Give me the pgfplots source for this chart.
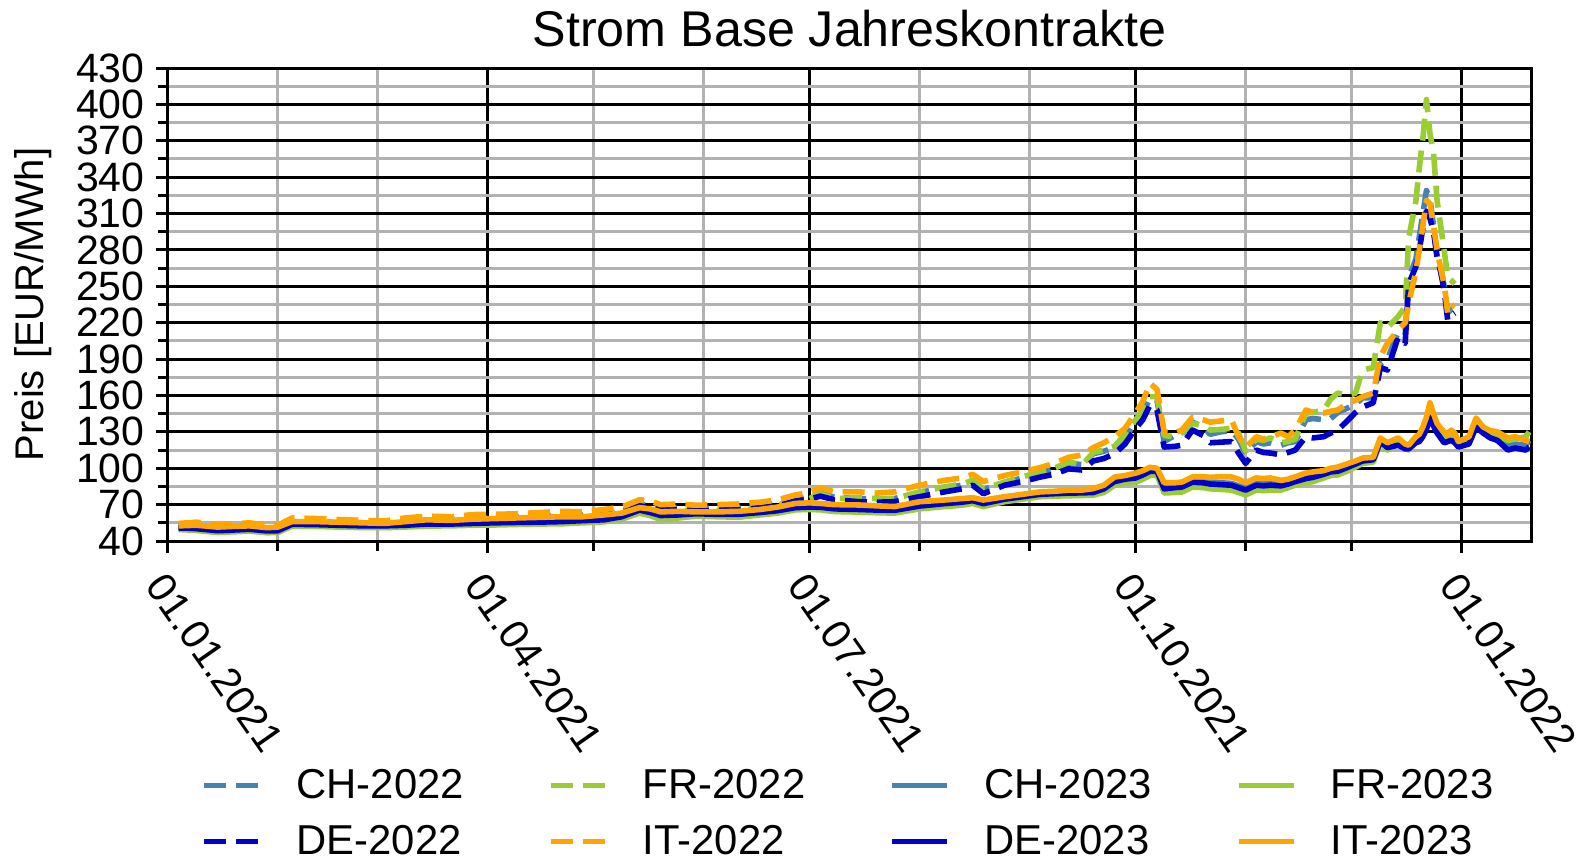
\documentclass[border=0pt]{standalone}
\usepackage{fontspec}
\setmainfont{Liberation Sans}
\usepackage{pgfplots}
\usepackage{pgfplotstable}
\pgfplotsset{compat=1.18}
\definecolor{chc}{RGB}{70,130,180}
\definecolor{dec}{RGB}{0,0,205}
\definecolor{frc}{RGB}{154,205,50}
\definecolor{itc}{RGB}{255,165,0}

% 2022 contracts (day since 01.01.2021)
\pgfplotstableread{
day ch de fr it
3 51.5 50.5 50 54.5
8 52.5 51.5 51 55.5
14 51 50 49.5 53.5
18 51.5 50.5 50 54
23 52 51 50.5 55
28 50.5 49.5 49 52.8
31 51 50 49 53
35 56 55 54.5 59
42 56 55 54 58.5
48 55 54 53.2 57.7
55 54.5 53.5 52.5 57
61 54 53 52 56.5
67 56.5 55.5 54.5 59
73 58 57 56 60.5
80 57.5 56.5 55.5 60
86 59 58 57.3 61.8
92 59.5 58.5 57.5 62
98 60 59 58 62.4
105 60.5 59.5 59 63.5
111 61.5 60.5 60 64.5
117 61.5 60.5 59.5 64
123 63 62 61.5 66
128 65 64 63.5 68
133 70.5 69 69.5 74
136 69.5 68 68.5 73
139 67 65.5 63 70
144 67.5 66 65.5 70.5
149 66.5 65 64.5 69.5
155 67 65.5 65 70
161 67.5 66 65.5 70.5
167 69 67.5 67 72
172 71 69 69 74
177 75 73 76.5 78
181 76.5 74.5 75 80
184 80 77 79 84
188 76 74 75 80.5
195 75 72.4 75.7 80.5
200 74.5 72 75 79.5
205 75 72.4 75 80.5
212 80 76.5 80.5 86
219 84 80.5 84.6 90
224 86 83 87 92
227 89 86 90 95
230 82.5 79 83 89
236 88 86 88.6 94
241 92 89 93 97
246 96 92.7 96.7 100.5
250 99 95 100 104
254 104 99.5 105 109
258 103 98.5 103 111
261 112 106 113 117
264 114 108 115 121
267 117 112 118 126
270 125 120 128 133
273 139 133 140 146
275 145 140 148 155
277 158 152 159 170
279 156 148 159 165
281 122 117.5 127 130
284 127 118 126 129
286 128 119 129 131.5
289 138 131.5 137 142
292 134 127 135 140
294 128 121 131.5 138
297 130 121.5 132 139
300 131 122 133 140
302 124 112.5 129 126
304 112 104 114 117
307 122 115 124 126
309 120 113 123 124
311 121 112.5 125 126
314 119 111 121 129
316 121 113 122 126
318 122 115 124 131.5
321 140 126 145.5 148
323 141 125 146 146
326 140 126 148 145.5
328 141 129 157 147
330 146 131.5 162 148
333 150 140 160 154
335 153 146 162 156
337 158 150.5 181 159
340 158 154 183 162
342 186 183 220 192
344 190 181 216 203
347 212 208 225 214
349 210 203 233 220
350 257 252 290 236
352 272 266 320 262
353 291 280 348 280
354 310 298 372 300
355 329 312 404 321
356 322 306 376 318
357 300 295 360 300
358 274 274 321 280
359 266 262 300 265
360 250 247 280 252
361 228 222 257.6 228
362 231 226 255 235
363 232 228 252 233
}\tabA

% 2023 contracts
\pgfplotstableread{
day de ch fr it
3 51 52.5 49.5 52.5
8 50.2 51.7 48.7 53
14 48.5 50 47 51.5
18 49 50.5 47.5 52
23 49.7 51.2 48.2 52.5
28 48.3 49.8 46.8 51
31 48.5 50 47 51.5
35 53.8 55.3 52.3 56
42 53.5 55 52 56
48 53 54.5 51.5 55.5
55 52.5 54 51 55
61 52.5 54 51 54.5
67 53 54.5 51.5 56
73 54 55.5 52.3 57.5
80 54 55.5 52.5 57
86 54.5 56 53 58
92 55 56.5 53.2 58.5
98 55.3 56.8 53.6 59
105 55.6 57.1 54 59.5
111 56 57.5 54.2 60
117 56.8 58.3 55 60
123 57.5 59 55.8 61.5
128 60 61.5 58 63
133 65.5 67 63 67.5
136 63.5 65 61 66.5
139 61 62.5 57.7 64
144 61.5 63 59 64.5
149 62.5 64 60.5 64
155 62 63.5 60 64
161 62 63.5 59.6 64.5
167 63.5 65 61.5 66
172 65 66.5 63 68
177 67.5 69 65.7 71
181 68 69.5 66 71.5
184 67.8 69.3 65.7 71
188 66.5 68 64.3 70
195 66 67.5 63.8 69.7
200 65.5 67 63.3 69
205 65.3 66.8 63 68.4
212 68.8 70.3 66.5 72.4
219 70.8 72.3 68.4 73.8
224 72 73.5 69.5 75
227 73.3 74.8 71 75.7
230 70.8 72.3 68.4 73.8
236 74.5 76 72.4 76.5
241 76.5 78 74.5 78.5
246 78.5 80 76.5 80.5
250 79 80.5 77 81
254 79.5 81 77.3 81.9
258 79.7 81.2 77.5 82
261 80 81.5 77.8 83.2
264 83 84.5 80 86
267 89 90.5 86 92.7
270 91 92.5 88 94
273 92 93.5 88.6 96
275 94.5 96 91 98
277 97.5 99 94 100.8
279 97.5 99 94.5 100
281 83 84.5 79.6 88
284 84 85.5 80 88
286 84.5 86 80.4 88.6
289 88.5 90 84.5 92.8
292 88 89.5 84 93
294 87 88.5 83 92.5
297 86.5 88 82.5 93
300 86 87.5 82 92.8
302 84 85.5 80 91
304 82 83.5 78 88
307 86 87.5 82 92
309 85.5 87 81.5 91.5
311 86 87.5 82 92
314 85.5 87 82 90
316 87 88.5 84 91
318 89 90.5 86 93
321 91.5 93 88 96
323 92.5 94 89 97
326 95 96.5 92 98
328 97 98.5 94 100
330 97.5 99 94.5 101
333 101 102.5 98 104
335 103.5 105 101 106
337 106 107.5 104 108.4
340 107 108.5 105 109
342 122 123.5 121 125
344 117 118.5 115 121
347 119 120.5 122 125
349 116 117.5 117 120
350 116 117.5 115 119
352 121 122.5 122 126
353 122 123.5 124 128
354 126 127.5 130 134
355 132 133.5 138 142
356 142 143.5 148 154
357 135 136.5 140 145
358 129 130.5 133 137
359 125 126.5 130 133
360 121 122.5 127 130
361 122 123.5 125 128
362 123 124.5 128 131.5
363 121 122.5 126 129
364 117.5 120 120 122
367 120 123 124 126
369 134 137 139 141.4
371 129 131 131 134
373 125 127 128 131
375 123 126 127 130
378 115 119 123 125
380 116.7 120 124 126
383 115 119 126 123
384 117.5 123 130 122
}\tabB

\begin{document}
\begin{tikzpicture}
\path[use as bounding box] (-84pt,-158.5pt) rectangle (706.5pt,270.5pt);
\begin{axis}[
  scale only axis, width=681.5pt, height=236.5pt,
  xmin=0, xmax=384.5, ymin=40, ymax=430,
  xtick={0,90,181,273,365},
  xticklabels={01.01.2021,01.04.2021,01.07.2021,01.10.2021,01.01.2022},
  minor xtick={31,59,120,151,212,243,304,334},
  ytick={40,70,...,430},
  yticklabels={40,70,100,130,160,190,220,250,280,310,340,370,400,430},
  minor ytick={55,85,...,415},
  grid=both,
  major grid style={black, line width=1.5pt},
  minor grid style={black!30, line width=1.5pt},
  axis line style={black, line width=1.5pt},
  tick style={black, line width=1.5pt},
  tick align=outside, xtick pos=left, ytick pos=left,
  major tick length=6pt, minor tick length=5pt,
  xticklabel style={font=\fontsize{20.5}{24}\selectfont, rotate=-55, anchor=north west, inner sep=0pt},
  xticklabel shift=8.5pt,
  yticklabel style={font=\fontsize{20.5}{24}\selectfont, anchor=east, inner sep=0pt},
  yticklabel shift=5.5pt,
  title={Strom Base Jahreskontrakte},
  title style={font=\fontsize{25.1}{30}\selectfont, at={(0.5,1)}, anchor=base, yshift=5pt},
  ylabel={Preis [EUR/MWh]},
  ylabel style={font=\fontsize{20}{24}\selectfont, at={(axis description cs:0,0.5)}, anchor=center, yshift=67.5pt},
  every axis plot/.append style={line width=2.8pt, line join=round},
  legend image code/.code={\draw[#1] (0pt,0pt) -- (27.5pt,0pt);},
  legend columns=4,
  legend style={draw=none, fill=none, font=\fontsize{20.9}{25}\selectfont,
    nodes={inner ysep=1pt},
    at={(0.5,0)}, anchor=north, yshift=-111pt,
    row sep=10pt,
    /tikz/every odd column/.append style={column sep=15.2pt},
    /tikz/every even column/.append style={column sep=40pt}},
  legend cell align=left,
]
\addplot[chc, dash pattern=on 11pt off 5pt] table[x=day,y=ch]{\tabA};
\addlegendentry{CH-2022}
\addplot[frc, dash pattern=on 11pt off 5pt] table[x=day,y=fr]{\tabA};
\addlegendentry{FR-2022}
\addplot[chc] table[x=day,y=ch]{\tabB};
\addlegendentry{CH-2023}
\addplot[frc] table[x=day,y=fr]{\tabB};
\addlegendentry{FR-2023}
\addplot[dec, dash pattern=on 11pt off 5pt] table[x=day,y=de]{\tabA};
\addlegendentry{DE-2022}
\addplot[itc, dash pattern=on 11pt off 5pt] table[x=day,y=it]{\tabA};
\addlegendentry{IT-2022}
\addplot[dec] table[x=day,y=de]{\tabB};
\addlegendentry{DE-2023}
\addplot[itc] table[x=day,y=it]{\tabB};
\addlegendentry{IT-2023}
\end{axis}
\end{tikzpicture}
\end{document}
